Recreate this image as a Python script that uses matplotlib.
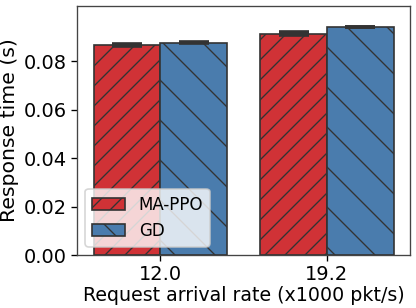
import matplotlib
matplotlib.use("Agg")
import matplotlib.pyplot as plt
import numpy as np

categories = ["12.0", "19.2"]
series_names = ["MA-PPO", "GD"]
ma_ppo = [0.0870, 0.0915]
ma_ppo_err = [0.0004, 0.0007]
gd = [0.0878, 0.0943]
gd_err = [0.0001, 0.0001]

colors = ["#d03236", "#4a7cad"]
hatches = ["//", "\\"]

DPI = 120
plt.rcParams['hatch.linewidth'] = 0.8
plt.rcParams['hatch.color'] = '#333333'

fig = plt.figure(figsize=(416/DPI, 308/DPI), dpi=DPI)
ax = fig.add_axes([0.185, 0.172, 0.801, 0.809])

x = np.arange(len(categories))
w = 0.4
for i, (vals, errs) in enumerate([(ma_ppo, ma_ppo_err), (gd, gd_err)]):
    ax.bar(x - w/2 + i*w, vals, w, color=colors[i], edgecolor='#333333', linewidth=1.0,
           hatch=hatches[i], label=series_names[i],
           yerr=errs, capsize=9, error_kw=dict(ecolor='#333333', elinewidth=2.2, capthick=2.2))

ax.set_xticks(x)
ax.set_xticklabels(categories)
ax.set_xlim(-0.5, 1.5)
ax.set_ylim(0, 0.103)
ax.set_yticks([0.0, 0.02, 0.04, 0.06, 0.08])
ax.set_yticklabels(["0.00", "0.02", "0.04", "0.06", "0.08"])
ax.tick_params(labelsize=11.6, pad=2.5)
ax.set_xlabel("Request arrival rate (x1000 pkt/s)", fontsize=11.4, labelpad=1)
ax.set_ylabel("Response time (s)", fontsize=12.2, labelpad=3)
for s in ax.spines.values():
    s.set_color('#444444')
ax.legend(loc='lower left', fontsize=10, handlelength=2.0)

fig.savefig("out.png", dpi=DPI)
